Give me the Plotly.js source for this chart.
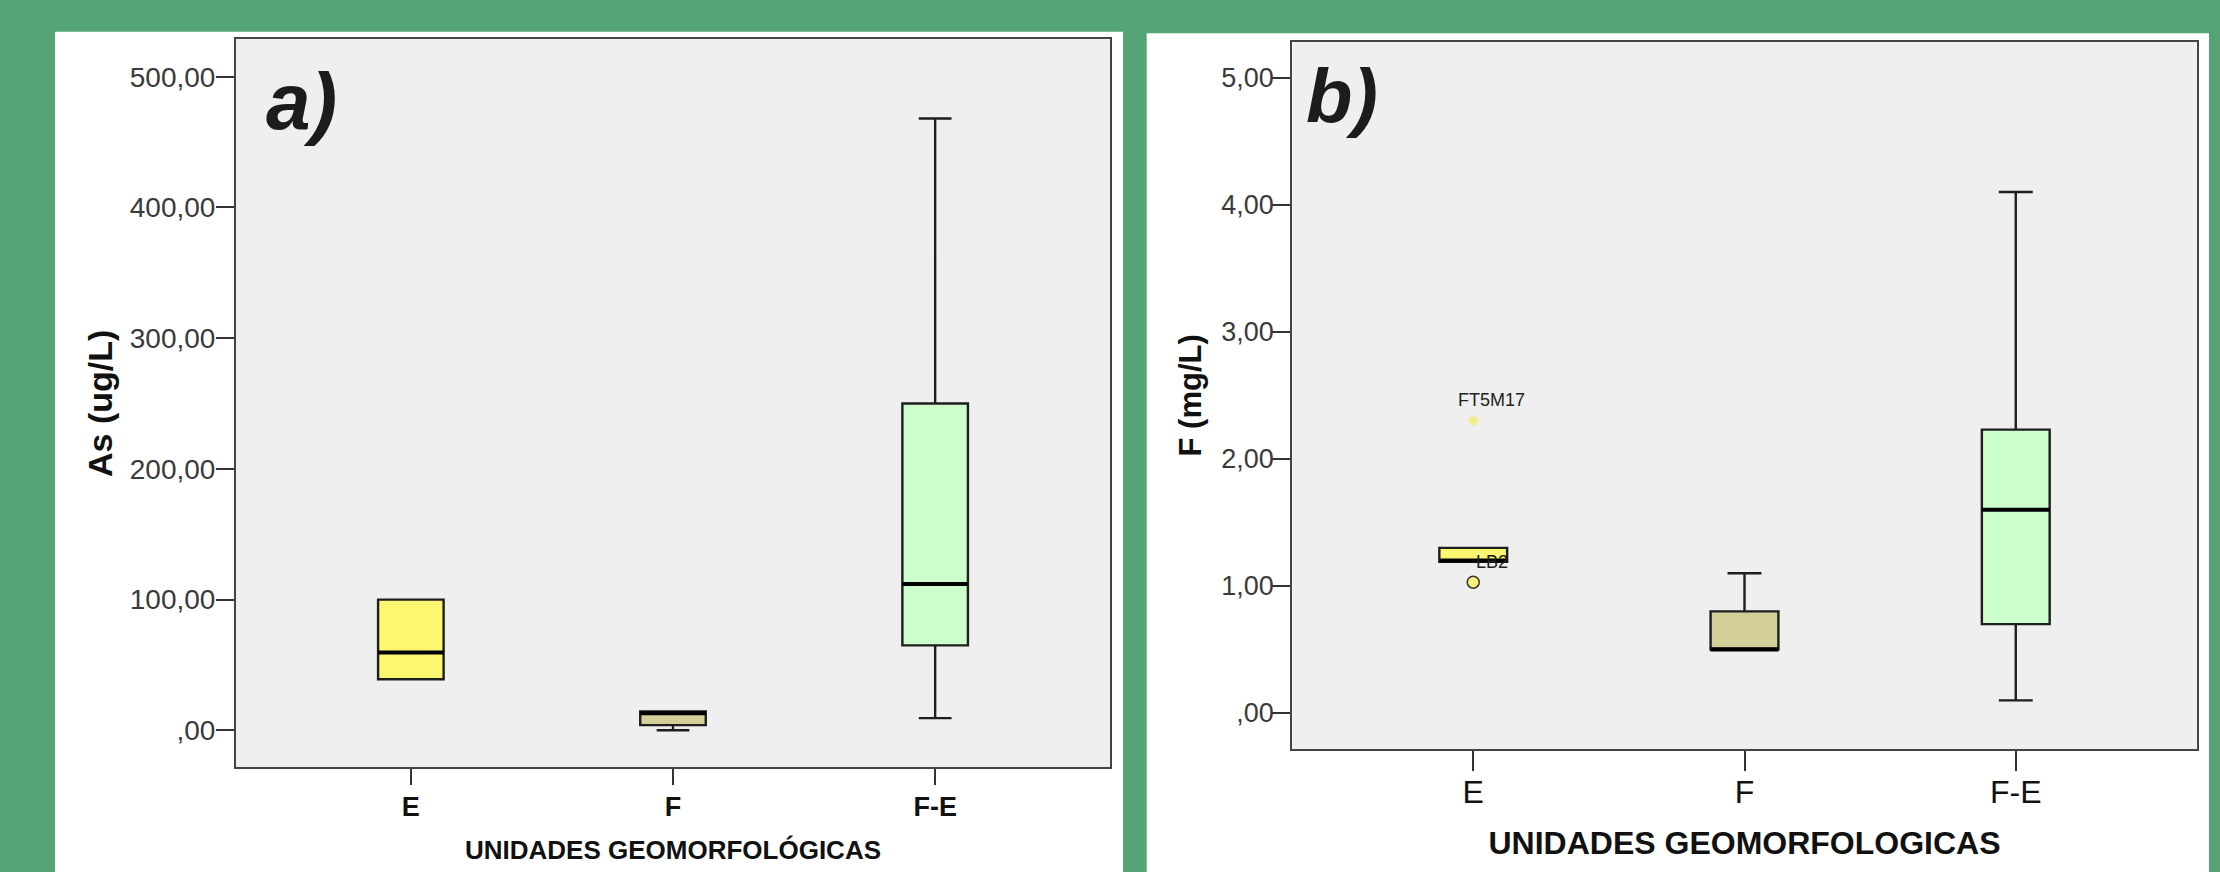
<!DOCTYPE html>
<html>
<head>
<meta charset="utf-8">
<script src="https://cdn.plot.ly/plotly-3.0.1.min.js"></script>
<style>
  html, body { margin: 0; padding: 0; background: #55a476; }
  #chart { width: 2220px; height: 872px; }
</style>
</head>
<body>
<div id="chart"></div>
<script>
// ---------- data ----------
const categories = ['E', 'F', 'F-E'];

// panel a) As (ug/L)
const asLower  = [39, 0, 9.3];
const asQ1     = [39, 4, 65];
const asMedian = [59.5, 13, 112];
const asQ3     = [100, 14.5, 250];
const asUpper  = [100, 14.5, 468];
const asTickVals = [0, 100, 200, 300, 400, 500];
const asTickText = [',00', '100,00', '200,00', '300,00', '400,00', '500,00'];

// panel b) F (mg/L)
const fLower  = [1.19, 0.5, 0.1];
const fQ1     = [1.19, 0.5, 0.7];
const fMedian = [1.2, 0.5, 1.6];
const fQ3     = [1.3, 0.8, 2.23];
const fUpper  = [1.3, 1.1, 4.1];
const fTickVals = [0, 1, 2, 3, 4, 5];
const fTickText = [',00', '1,00', '2,00', '3,00', '4,00', '5,00'];

// panel b) outliers
const fOutlierCat   = ['E', 'E'];
const fOutlierVal   = [2.3, 1.03];
const fOutlierLabel = ['FT5M17', 'LB2'];
const fOutlierKind  = ['extreme', 'outlier'];

// ---------- styles ----------
const FONT = 'Liberation Sans, Arial, sans-serif';
const boxColors = ['#fcf670', '#d4cf99', '#ccffcc'];

function boxTraces(xa, ya, lower, q1, med, q3, upper) {
  const out = [];
  categories.forEach((c, i) => {
    out.push({
      type: 'box', x: [c], q1: [q1[i]], median: [med[i]], q3: [q3[i]],
      lowerfence: [lower[i]], upperfence: [upper[i]],
      width: 0.25, whiskerwidth: 0.5,
      fillcolor: boxColors[i],
      line: { color: '#1e1e1e', width: 2.4 },
      boxpoints: false, hoverinfo: 'skip',
      xaxis: xa, yaxis: ya
    });
    // thick median line (SPSS style)
    out.push({
      type: 'box', x: [c], q1: [med[i]], median: [med[i]], q3: [med[i]],
      lowerfence: [med[i]], upperfence: [med[i]],
      width: 0.25, whiskerwidth: 0,
      fillcolor: 'rgba(0,0,0,0)',
      line: { color: '#000000', width: 4 },
      boxpoints: false, hoverinfo: 'skip',
      xaxis: xa, yaxis: ya
    });
  });
  return out;
}

const traces = []
  .concat(boxTraces('x', 'y', asLower, asQ1, asMedian, asQ3, asUpper))
  .concat(boxTraces('x2', 'y2', fLower, fQ1, fMedian, fQ3, fUpper));

// outlier markers
fOutlierCat.forEach((c, i) => {
  const extreme = fOutlierKind[i] === 'extreme';
  traces.push({
    type: 'scatter', mode: 'markers', x: [c], y: [fOutlierVal[i]],
    xaxis: 'x2', yaxis: 'y2', hoverinfo: 'skip',
    marker: extreme
      ? { symbol: 'asterisk-open', size: 9, color: '#f2ee86', line: { color: '#f2ee86', width: 2 } }
      : { symbol: 'circle', size: 12, color: '#f6f27a', line: { color: '#333333', width: 1.5 } }
  });
});

const labelShift = [[18, 21], [19, 20]];
const annotations = fOutlierCat.map((c, i) => ({
  xref: 'x2', yref: 'y2', x: c, y: fOutlierVal[i], text: fOutlierLabel[i],
  showarrow: false, xshift: labelShift[i][0], yshift: labelShift[i][1],
  font: { family: FONT, size: 18, color: '#222' }
}));
annotations.push({
  xref: 'paper', yref: 'paper', x: 264 / 2220, y: 1 - 55 / 872,
  xanchor: 'left', yanchor: 'top', text: '<b><i>a)</i></b>', showarrow: false,
  font: { family: FONT, size: 80, color: '#1c1c1c' }
});
annotations.push({
  xref: 'paper', yref: 'paper', x: 1304 / 2220, y: 1 - 51 / 872,
  xanchor: 'left', yanchor: 'top', text: '<b><i>b)</i></b>', showarrow: false,
  font: { family: FONT, size: 76, color: '#1c1c1c' }
});

const frame = { showline: true, mirror: true, linecolor: '#444', linewidth: 2,
                showgrid: false, zeroline: false, fixedrange: true };

const layout = {
  width: 2220, height: 872,
  margin: { l: 0, r: 0, t: 0, b: 0 },
  paper_bgcolor: '#55a476', plot_bgcolor: 'rgba(0,0,0,0)',
  showlegend: false, boxmode: 'overlay',
  font: { family: FONT },
  xaxis: Object.assign({}, frame, {
    domain: [236 / 2220, 1110 / 2220], anchor: 'y',
    type: 'category', categoryorder: 'array', categoryarray: categories,
    range: [-0.667, 2.667],
    ticks: 'outside', ticklen: 16, tickwidth: 2, tickcolor: '#333',
    ticklabelstandoff: -2,
    tickfont: { family: FONT, size: 27, color: '#111', weight: 'bold' },
    title: { text: 'UNIDADES GEOMORFOLÓGICAS', standoff: 20,
             font: { family: FONT, size: 26, color: '#111', weight: 'bold' } }
  }),
  yaxis: Object.assign({}, frame, {
    domain: [1 - 767.3 / 872, 1 - 39.3 / 872], anchor: 'x',
    range: [-28.3, 528.6],
    tickmode: 'array', tickvals: asTickVals, ticktext: asTickText,
    ticks: 'outside', ticklen: 18, tickwidth: 2, tickcolor: '#333',
    ticklabelstandoff: -5,
    tickfont: { family: FONT, size: 28, color: '#3a3a3a' },
    title: { text: 'As (ug/L)', standoff: 7,
             font: { family: FONT, size: 34, color: '#111', weight: 'bold' } }
  }),
  xaxis2: Object.assign({}, frame, {
    domain: [1292.3 / 2220, 2196.7 / 2220], anchor: 'y2',
    type: 'category', categoryorder: 'array', categoryarray: categories,
    range: [-0.667, 2.667],
    ticks: 'outside', ticklen: 20, tickwidth: 2, tickcolor: '#333',
    ticklabelstandoff: -6,
    tickfont: { family: FONT, size: 32, color: '#111' },
    title: { text: 'UNIDADES GEOMORFOLOGICAS', standoff: 22,
             font: { family: FONT, size: 32, color: '#111', weight: 'bold' } }
  }),
  yaxis2: Object.assign({}, frame, {
    domain: [1 - 749 / 872, 1 - 41.7 / 872], anchor: 'x2',
    range: [-0.283, 5.283],
    tickmode: 'array', tickvals: fTickVals, ticktext: fTickText,
    ticks: 'outside', ticklen: 19, tickwidth: 2, tickcolor: '#333',
    ticklabelstandoff: -8,
    tickfont: { family: FONT, size: 27, color: '#3a3a3a' },
    title: { text: 'F (mg/L)', standoff: 10,
             font: { family: FONT, size: 31, color: '#111', weight: 'bold' } }
  }),
  shapes: [
    { type: 'rect', xref: 'paper', yref: 'paper', layer: 'below',
      x0: 55 / 2220, x1: 1123 / 2220, y0: 0, y1: 1 - 31.7 / 872,
      fillcolor: '#ffffff', line: { width: 0 } },
    { type: 'rect', xref: 'paper', yref: 'paper', layer: 'below',
      x0: 1146.7 / 2220, x1: 2209 / 2220, y0: 0, y1: 1 - 33.3 / 872,
      fillcolor: '#ffffff', line: { width: 0 } },
    { type: 'rect', xref: 'x domain', yref: 'y domain', layer: 'below',
      x0: 0, x1: 1, y0: 0, y1: 1, fillcolor: '#efefef', line: { width: 0 } },
    { type: 'rect', xref: 'x2 domain', yref: 'y2 domain', layer: 'below',
      x0: 0, x1: 1, y0: 0, y1: 1, fillcolor: '#efefef', line: { width: 0 } }
  ],
  annotations: annotations
};

Plotly.newPlot('chart', traces, layout, { staticPlot: true, displayModeBar: false });
</script>
</body>
</html>
